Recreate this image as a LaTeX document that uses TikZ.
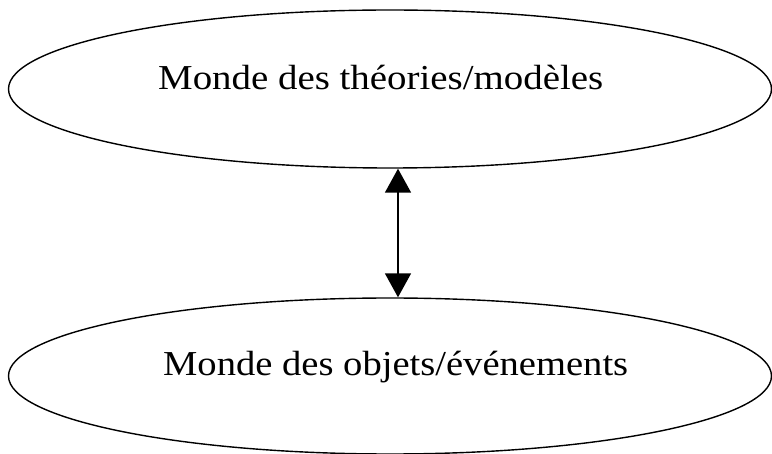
\documentclass[tikz,border=0pt]{standalone}
\usepackage{fontspec}
\setmainfont{Liberation Serif}
\usetikzlibrary{shapes.geometric,arrows.meta}
\begin{document}
\begin{tikzpicture}[x=1pt,y=-1pt,
  world/.style={draw=black,line width=1.4pt,ellipse,minimum width=763pt,minimum height=158pt,inner sep=0pt},
  lbl/.style={font=\fontsize{35}{40}\selectfont,inner sep=0pt,anchor=base west},
  link/.style={line width=1.6pt,{Triangle[length=24pt,width=26pt]}-{Triangle[length=24pt,width=26pt]}}]
\useasboundingbox (0,0) rectangle (772,454);
\fill[white] (0,0) rectangle (772,454);
\node[world] (top) at (390,89) {};
\node[world,minimum height=156pt] (bot) at (390,376) {};
\node[lbl] (t1) at (158,90) {\resizebox{445pt}{\height}{Monde des théories/modèles}};
\node[lbl] (t2) at (163,376) {\resizebox{465pt}{\height}{Monde des objets/événements}};
\coordinate (ax) at (398,200);
\draw[link] (top.south -| ax) -- (bot.north -| ax);
\end{tikzpicture}
\end{document}
